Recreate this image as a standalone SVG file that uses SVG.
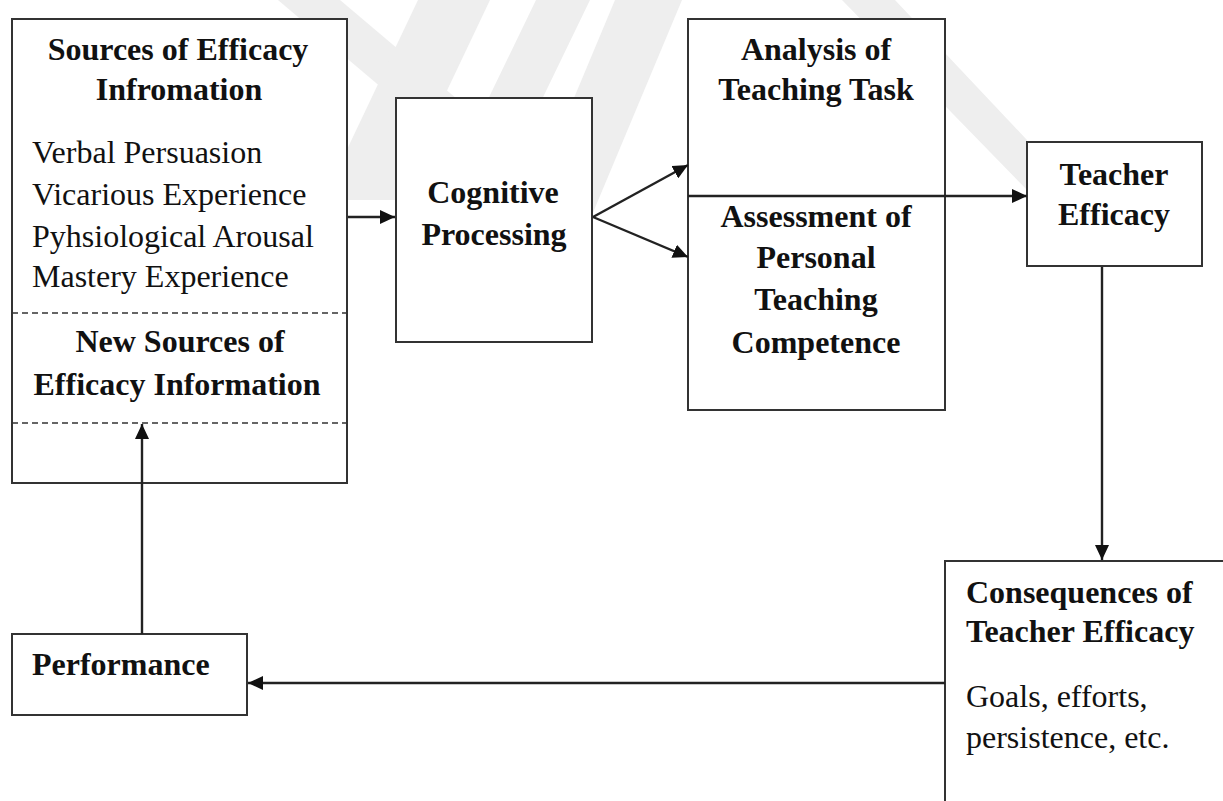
<svg xmlns="http://www.w3.org/2000/svg" width="1223" height="801" viewBox="0 0 1223 801">
<style>
.box{fill:#fff;stroke:#333;stroke-width:2}
.dash{stroke:#333;stroke-width:1.6;stroke-dasharray:6 4;fill:none}
.conn{stroke:#222;stroke-width:2.4;fill:none}
.wm{fill:#eeeeee;stroke:none}
text{font-family:"Liberation Serif","Times New Roman",serif;font-size:32px;fill:#111}
.b{font-weight:bold}
.c{text-anchor:middle}
</style>
<defs>
<marker id="ah" markerUnits="userSpaceOnUse" markerWidth="16" markerHeight="14" refX="15" refY="7" orient="auto">
<path d="M0,0 L15,7 L0,14 z" fill="#111"/>
</marker>
</defs>
<rect width="1223" height="801" fill="#fff"/>
<g id="watermark">
<polygon class="wm" points="278,0 340,0 470,110 408,110"/>
<polygon class="wm" points="418,0 490,0 395,200 323,200"/>
<polygon class="wm" points="536,0 590,0 532,120 478,120"/>
<polygon class="wm" points="615,0 682,0 592,215 525,215"/>
<polygon class="wm" points="842,0 895,0 1027,140 1027,190"/>
</g>
<g id="sources">
<rect class="box" x="12" y="19" width="335" height="464"/>
<line class="dash" x1="12" y1="313" x2="347" y2="313"/>
<line class="dash" x1="12" y1="423" x2="347" y2="423"/>
<text class="b c" x="178" y="60">Sources of Efficacy</text>
<text class="b c" x="179" y="100">Infromation</text>
<text x="32" y="163">Verbal Persuasion</text>
<text x="32" y="205">Vicarious Experience</text>
<text x="32" y="247">Pyhsiological Arousal</text>
<text x="32" y="287">Mastery Experience</text>
<text class="b c" x="180" y="352">New Sources of</text>
<text class="b c" x="177" y="395">Efficacy Information</text>
</g>
<g id="cognitive">
<rect class="box" x="396" y="98" width="196" height="244"/>
<text class="b c" x="493" y="203">Cognitive</text>
<text class="b c" x="494" y="245">Processing</text>
</g>
<g id="analysis">
<rect class="box" x="688" y="19" width="257" height="391"/>
<text class="b c" x="816" y="60">Analysis of</text>
<text class="b c" x="816" y="100">Teaching Task</text>
<text class="b c" x="816" y="227">Assessment of</text>
<text class="b c" x="816" y="268">Personal</text>
<text class="b c" x="816" y="310">Teaching</text>
<text class="b c" x="816" y="353">Competence</text>
</g>
<g id="teacher-efficacy">
<rect class="box" x="1027" y="142" width="175" height="124"/>
<text class="b c" x="1114" y="185">Teacher</text>
<text class="b c" x="1114" y="225">Efficacy</text>
</g>
<g id="consequences">
<path class="box" d="M945,810 V561 H1230 V810 Z"/>
<text class="b" x="966" y="603">Consequences of</text>
<text class="b" x="966" y="642">Teacher Efficacy</text>
<text x="966" y="707">Goals, efforts,</text>
<text x="966" y="748">persistence, etc.</text>
</g>
<g id="performance">
<rect class="box" x="12" y="634" width="235" height="81"/>
<text class="b" x="32" y="675">Performance</text>
</g>
<g id="connectors">
<line class="conn" x1="348" y1="217" x2="395" y2="217" marker-end="url(#ah)"/>
<line class="conn" x1="593" y1="217" x2="688" y2="165" marker-end="url(#ah)"/>
<line class="conn" x1="593" y1="217" x2="688" y2="257" marker-end="url(#ah)"/>
<line class="conn" x1="688" y1="196" x2="1027" y2="196" marker-end="url(#ah)"/>
<line class="conn" x1="1102" y1="267" x2="1102" y2="560" marker-end="url(#ah)"/>
<line class="conn" x1="945" y1="683" x2="248" y2="683" marker-end="url(#ah)"/>
<line class="conn" x1="142" y1="634" x2="142" y2="424" marker-end="url(#ah)"/>
</g>
</svg>
